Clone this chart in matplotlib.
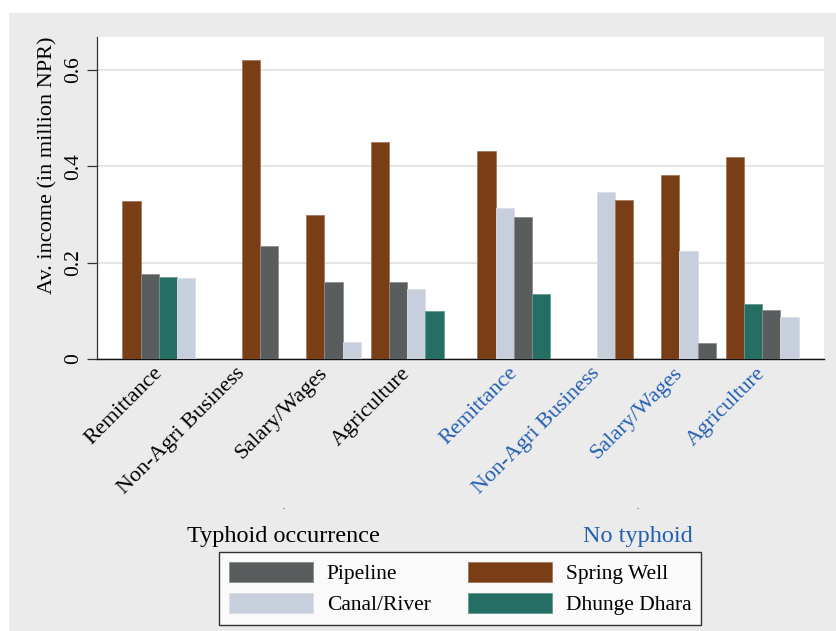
import numpy as np
import matplotlib
matplotlib.use("Agg")
import matplotlib.pyplot as plt
from matplotlib.patches import Rectangle, Patch
from matplotlib.transforms import blended_transform_factory, ScaledTranslation
from matplotlib.colors import to_rgb

# ---- data: mean household income (million NPR) ----
occupations = ["Remittance", "Non-Agri Business", "Salary/Wages", "Agriculture"]
groups = ["Typhoid occurrence", "No typhoid"]
sources = ["Pipeline", "Canal/River", "Spring Well", "Dhunge Dhara"]

typhoid_pipeline = [0.176, 0.234, 0.160, 0.160]
typhoid_canal = [0.169, np.nan, 0.036, 0.145]
typhoid_spring = [0.328, 0.621, 0.298, 0.450]
typhoid_dhunge = [0.171, np.nan, np.nan, 0.100]

notyphoid_pipeline = [0.295, np.nan, 0.0325, 0.101]
notyphoid_canal = [0.313, 0.346, 0.224, 0.088]
notyphoid_spring = [0.432, 0.330, 0.382, 0.419]
notyphoid_dhunge = [0.134, np.nan, np.nan, 0.115]

y_ticks = [0, 0.2, 0.4, 0.6]
y_tick_labels = ["0", "0.2", "0.4", "0.6"]

# ---- styling ----
colors = {"Pipeline": "#595d5e", "Canal/River": "#c8cfdc",
          "Spring Well": "#7a3e17", "Dhunge Dhara": "#246e63"}
blue = "#225fb3"
serif = "Liberation Serif"


def lighten(c, f=0.3):
    r, g, b = to_rgb(c)
    return (r + (1 - r) * f, g + (1 - g) * f, b + (1 - b) * f)


W, H = 836, 631
fig = plt.figure(figsize=(W / 100, H / 100), dpi=100, facecolor="white")
fig.patches.append(Rectangle((9 / W, 0), 1 - 9 / W, 1 - 13 / H,
                             transform=fig.transFigure, facecolor="#ebebeb",
                             edgecolor="none", zorder=-10))
ax = fig.add_axes([97 / W, 1 - 359 / H, 727 / W, 322 / H])
ax.set_facecolor("white")

table = [
    [typhoid_pipeline, typhoid_canal, typhoid_spring, typhoid_dhunge],
    [notyphoid_pipeline, notyphoid_canal, notyphoid_spring, notyphoid_dhunge],
]

# category positions (one bar = 1 unit)
cat_step = 4.55
group_step = 5.85
first = 3.4
centers = []
for g in range(2):
    for k in range(4):
        centers.append(first + g * (3 * cat_step + group_step) + k * cat_step)

# bars sorted by value within each category, empty slots on the left
for g in range(2):
    for k in range(4):
        c = centers[g * 4 + k]
        vals = [(table[g][s][k], sources[s]) for s in range(4)
                if not np.isnan(table[g][s][k])]
        vals.sort(key=lambda t: -t[0])
        start = 4 - len(vals)
        for j, (v, name) in enumerate(vals):
            x = c - 1.5 + start + j
            ax.bar(x, v, width=1.0, color=colors[name],
                   edgecolor=lighten(colors[name], 0.3), linewidth=0.6,
                   zorder=3)

ax.set_xlim(centers[0] - 3.4, centers[-1] + 3.4)
ax.set_ylim(0, 0.668)

ax.set_yticks(y_ticks)
ax.set_yticklabels(y_tick_labels, rotation=90, va="center", ha="right",
                   family=serif, fontsize=15.5)
ax.tick_params(axis="y", length=7.2, width=0.9, color="#333333", pad=3.0)
ax.yaxis.grid(True, color="#e2e2e2", linewidth=1.3, zorder=0)
ax.set_axisbelow(True)

ax.set_xticks(centers)
ax.set_xticklabels(occupations * 2, rotation=45, ha="right",
                   rotation_mode="anchor", family=serif, fontsize=16)
ax.tick_params(axis="x", length=0, pad=3.5)
shift = ScaledTranslation(-0.06, 0, fig.dpi_scale_trans)
for i, lab in enumerate(ax.get_xticklabels()):
    lab.set_color("black" if i < 4 else blue)
    lab.set_transform(lab.get_transform() + shift)

for side in ("top", "right"):
    ax.spines[side].set_visible(False)
ax.spines["left"].set_color("#333333")
ax.spines["left"].set_linewidth(0.9)
ax.spines["bottom"].set_color("#111111")
ax.spines["bottom"].set_linewidth(1.0)

fig.text(48 / W, 1 - 165 / H, "Av. income (in million NPR)", rotation=90,
         ha="center", va="center", family=serif, fontsize=16)

# group titles under the category labels
trans = blended_transform_factory(ax.transData, fig.transFigure)
for g, (name, col) in enumerate(zip(groups, ["black", blue])):
    mid = (centers[g * 4] + centers[g * 4 + 3]) / 2
    ax.text(mid, 1 - 509 / H, ".", transform=trans, ha="center",
            va="baseline", fontsize=6, color="black", family=serif)
    ax.text(mid, 1 - 541.7 / H, name, transform=trans, ha="center",
            va="baseline", fontsize=17.5, color=col, family=serif)

handles = [Patch(facecolor=colors[s], edgecolor=lighten(colors[s], 0.3),
                 linewidth=0.6, label=s) for s in sources]
leg = fig.legend(handles=handles, ncol=2, loc="center",
                 bbox_to_anchor=(460.4 / W, 1 - 588.5 / H),
                 frameon=True, fancybox=False, edgecolor="black",
                 handlelength=3.9, handleheight=1.07, handletextpad=0.64,
                 columnspacing=1.75, labelspacing=0.42, borderpad=0.45,
                 prop={"family": serif, "size": 15.5})
leg.get_frame().set_linewidth(1.0)
leg.get_frame().set_facecolor("white")

fig.savefig("out.png", dpi=100, facecolor=fig.get_facecolor())
